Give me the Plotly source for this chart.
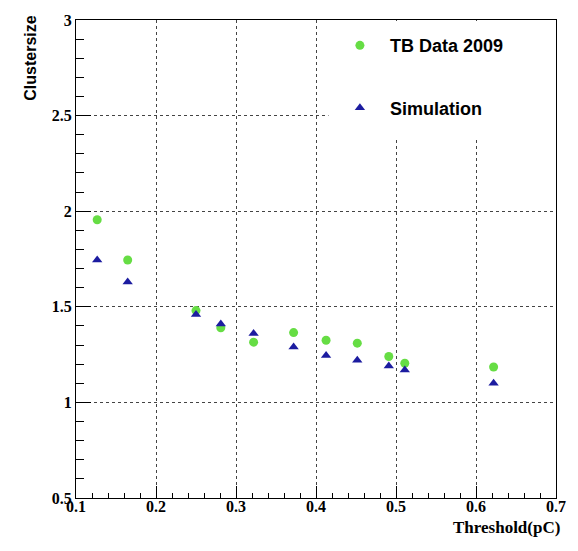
import plotly.graph_objects as go

threshold = [0.1265, 0.1646, 0.250, 0.281, 0.322, 0.372, 0.4126, 0.4516, 0.491, 0.511, 0.622]
tb_data_2009 = [1.955, 1.745, 1.48, 1.39, 1.315, 1.365, 1.325, 1.31, 1.24, 1.205, 1.185]
simulation = [1.745, 1.63, 1.46, 1.41, 1.36, 1.29, 1.245, 1.22, 1.19, 1.17, 1.10]

x_ticks = [0.1, 0.2, 0.3, 0.4, 0.5, 0.6, 0.7]
y_ticks = [0.5, 1, 1.5, 2, 2.5, 3]

fig = go.Figure()
fig.add_trace(go.Scatter(
    x=threshold, y=tb_data_2009, mode="markers", name="TB Data 2009",
    legendgroup="a",
    marker=dict(symbol="circle", size=9, color="#66dd44"),
))
fig.add_trace(go.Scatter(
    x=threshold, y=simulation, mode="markers", name="Simulation",
    legendgroup="b",
    marker=dict(symbol="triangle-up", size=9, color="#1c1ca0"),
))

tick_font = dict(family="Liberation Serif", size=16, color="black", weight="bold")

fig.update_layout(
    width=578, height=551,
    margin=dict(l=76, r=19, t=14, b=53),
    paper_bgcolor="white", plot_bgcolor="white",
    showlegend=True,
    legend=dict(
        x=0.529, y=0.985, xanchor="left", yanchor="top",
        bgcolor="rgba(0,0,0,0)",
        font=dict(family="Liberation Sans", size=18, color="black", weight="bold"),
        traceorder="grouped", tracegroupgap=36, itemwidth=50,
    ),
    xaxis=dict(
        range=[0.1, 0.7], tickvals=x_ticks, ticktext=[f"{v:g}" for v in x_ticks],
        showline=True, linecolor="black", linewidth=1, mirror=True,
        ticks="inside", ticklen=12, tickcolor="black",
        showgrid=True, gridcolor="#444", gridwidth=1, griddash="dot",
        zeroline=False, tickfont=tick_font, ticklabelstandoff=-6,
        minor=dict(ticks="inside", ticklen=5, dtick=0.02, tick0=0.1, tickcolor="black", showgrid=False),
    ),
    yaxis=dict(
        range=[0.5, 3], tickvals=y_ticks, ticktext=[f"{v:g}" for v in y_ticks],
        showline=True, linecolor="black", linewidth=1, mirror=True,
        ticks="inside", ticklen=15, tickcolor="black",
        showgrid=True, gridcolor="#444", gridwidth=1, griddash="dot",
        zeroline=False, tickfont=tick_font,
        minor=dict(ticks="inside", ticklen=8, dtick=0.1, tick0=0.5, tickcolor="black", showgrid=False),
    ),
    shapes=[dict(
        type="rect", xref="paper", yref="paper", x0=0.526, x1=0.998, y0=0.75, y1=0.998,
        fillcolor="white", line=dict(width=0), layer="above",
    )],
    annotations=[
        dict(text="Clustersize", xref="paper", yref="paper", x=-0.095, y=1.013,
             xanchor="center", yanchor="top", textangle=-90, showarrow=False,
             font=dict(family="Liberation Sans", size=16, color="black", weight="bold")),
        dict(text="Threshold(pC)", xref="paper", yref="paper", x=1.012, y=-0.062,
             xanchor="right", yanchor="middle", showarrow=False,
             font=dict(family="Liberation Serif", size=17, color="black", weight="bold")),
    ],
)

fig.write_html("out.html")
